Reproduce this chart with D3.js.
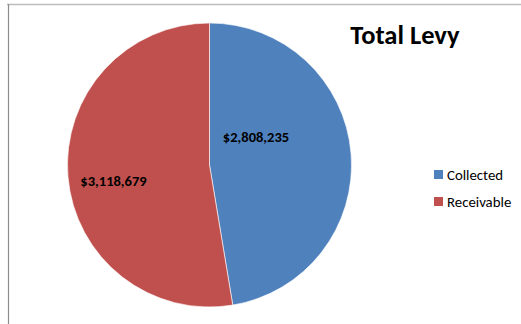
<!DOCTYPE html>
<html><head><meta charset="utf-8">
<script src="https://cdn.jsdelivr.net/npm/d3@7"></script>
<style>html,body{margin:0;padding:0;background:#fff;}svg{display:block;}</style>
</head><body>
<script>
const categories = ["Collected", "Receivable"];
const values = [2808235, 3118679];
const labels = ["$2,808,235", "$3,118,679"];
const colors = ["#4F81BD", "#C0504D"];
const title = "Total Levy";

const W = 521, H = 324;
const svg = d3.select("body").append("svg").attr("width", W).attr("height", H);
const font = "Carlito, Calibri, 'Open Sans', 'Liberation Sans', sans-serif";

svg.append("line").attr("x1", 7).attr("x2", W).attr("y1", 4.5).attr("y2", 4.5)
  .attr("stroke", "#bdbdbd").attr("stroke-width", 1.5);
svg.append("line").attr("x1", 8.5).attr("x2", 8.5).attr("y1", 4).attr("y2", H)
  .attr("stroke", "#8c8c8c").attr("stroke-width", 1.2);

const cx = 209.5, cy = 165, r = 142;
const pie = d3.pie().sort(null).value(d => d)(values);
const arc = d3.arc().innerRadius(0).outerRadius(r);
const g = svg.append("g").attr("transform", `translate(${cx},${cy})`);
g.selectAll("path").data(pie).join("path")
  .attr("d", arc).attr("fill", (d, i) => colors[i])
  .attr("stroke", "#fff").attr("stroke-width", 0.6);

const labelPos = [[256, 142], [113.5, 186]];
svg.selectAll("text.lbl").data(pie).join("text").attr("class", "lbl")
  .attr("x", (d, i) => labelPos[i][0]).attr("y", (d, i) => labelPos[i][1])
  .attr("text-anchor", "middle")
  .attr("font-family", font).attr("font-weight", "bold").attr("font-size", 14.5)
  .attr("fill", "#000").text((d, i) => labels[i]);

svg.append("text").attr("x", 405).attr("y", 44).attr("text-anchor", "middle")
  .attr("font-family", font).attr("font-weight", "bold").attr("font-size", 26.5)
  .attr("fill", "#000").text(title);

const lg = svg.append("g");
categories.forEach((c, i) => {
  const y = 170 + i * 27;
  lg.append("rect").attr("x", 434).attr("y", y).attr("width", 9).attr("height", 9).attr("fill", colors[i]);
  lg.append("text").attr("x", 447).attr("y", y + 9.5).attr("font-family", font)
    .attr("font-size", 14.8).attr("fill", "#000").text(c);
});
</script>
</body></html>
